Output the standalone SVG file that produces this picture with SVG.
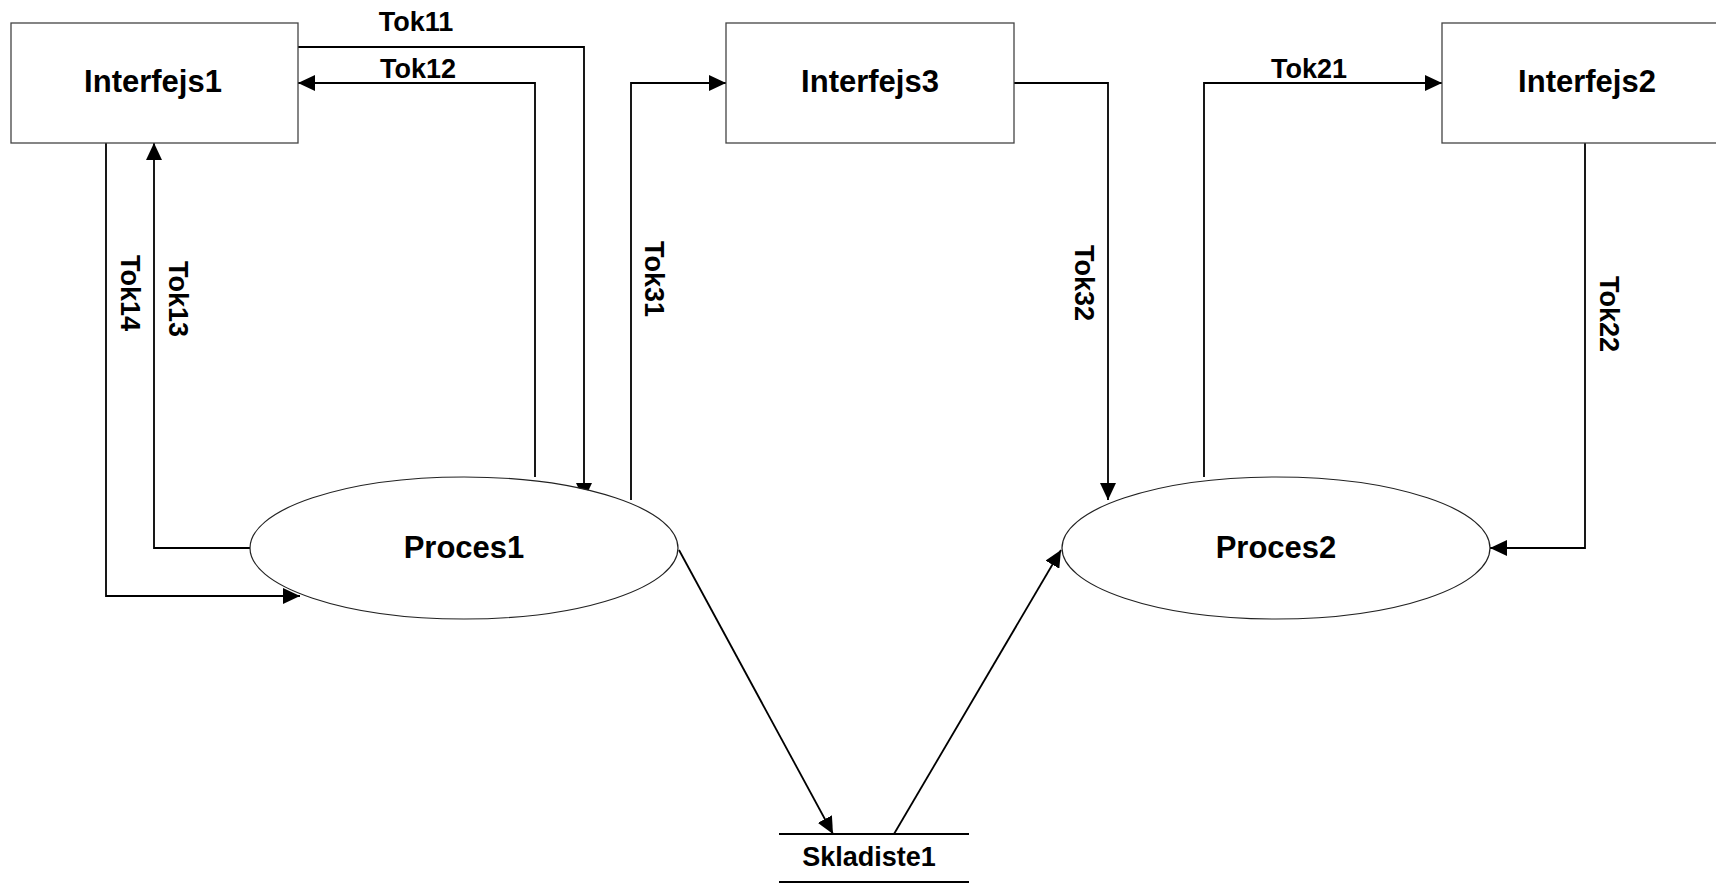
<svg xmlns="http://www.w3.org/2000/svg" width="1716" height="886" viewBox="0 0 1716 886">
<style>
.box{fill:#fff;stroke:#444;stroke-width:1.3}
.proc{fill:#fff;stroke:#222;stroke-width:1.2}
.store{stroke:#000;stroke-width:2}
.conn{fill:none;stroke:#000;stroke-width:1.8}
.node{font-family:"Liberation Sans",Arial,sans-serif;font-weight:bold;font-size:31px;fill:#000;text-anchor:middle}
.lbl{font-family:"Liberation Sans",Arial,sans-serif;font-weight:bold;font-size:27px;fill:#000;text-anchor:middle}
</style>
<defs>
<marker id="arr" markerUnits="userSpaceOnUse" markerWidth="18" markerHeight="16" refX="17" refY="8" orient="auto">
<path d="M0,0 L17,8 L0,16 z" fill="#000"/>
</marker>
</defs>
<rect width="1716" height="886" fill="#fff"/>
<g id="connectors">
<path class="conn" d="M298,47 H584 V500" marker-end="url(#arr)"/>
<path class="conn" d="M535,477 V83 H298" marker-end="url(#arr)"/>
<path class="conn" d="M250,548 H154 V143" marker-end="url(#arr)"/>
<path class="conn" d="M106,143 V596 H300" marker-end="url(#arr)"/>
<path class="conn" d="M631,500 V83 H726" marker-end="url(#arr)"/>
<path class="conn" d="M1014,83 H1108 V500" marker-end="url(#arr)"/>
<path class="conn" d="M1204,477 V83 H1442" marker-end="url(#arr)"/>
<path class="conn" d="M1585,143 V548 H1490" marker-end="url(#arr)"/>
<path class="conn" d="M679,550 L833,834" marker-end="url(#arr)"/>
<path class="conn" d="M894,834 L1061,550" marker-end="url(#arr)"/>
<text class="lbl" x="416" y="31">Tok11</text>
<text class="lbl" x="418" y="78">Tok12</text>
<text class="lbl" x="1309" y="78">Tok21</text>
<text class="lbl" transform="translate(121,293) rotate(90)">Tok14</text>
<text class="lbl" transform="translate(169,299) rotate(90)">Tok13</text>
<text class="lbl" transform="translate(645,279) rotate(90)">Tok31</text>
<text class="lbl" transform="translate(1075,283) rotate(90)">Tok32</text>
<text class="lbl" transform="translate(1600,314) rotate(90)">Tok22</text>
</g>
<g id="interfejs1">
<rect class="box" x="11" y="23" width="287" height="120"/>
<text class="node" x="153" y="92">Interfejs1</text>
</g>
<g id="interfejs3">
<rect class="box" x="726" y="23" width="288" height="120"/>
<text class="node" x="870" y="92">Interfejs3</text>
</g>
<g id="interfejs2">
<rect class="box" x="1442" y="23" width="288" height="120"/>
<text class="node" x="1587" y="92">Interfejs2</text>
</g>
<g id="proces1">
<ellipse class="proc" cx="464" cy="548" rx="214" ry="71"/>
<text class="node" x="464" y="558">Proces1</text>
</g>
<g id="proces2">
<ellipse class="proc" cx="1276" cy="548" rx="214" ry="71"/>
<text class="node" x="1276" y="558">Proces2</text>
</g>
<g id="skladiste1">
<line class="store" x1="779" y1="834" x2="969" y2="834"/>
<line class="store" x1="779" y1="882" x2="969" y2="882"/>
<text class="lbl" x="869" y="866">Skladiste1</text>
</g>
</svg>
